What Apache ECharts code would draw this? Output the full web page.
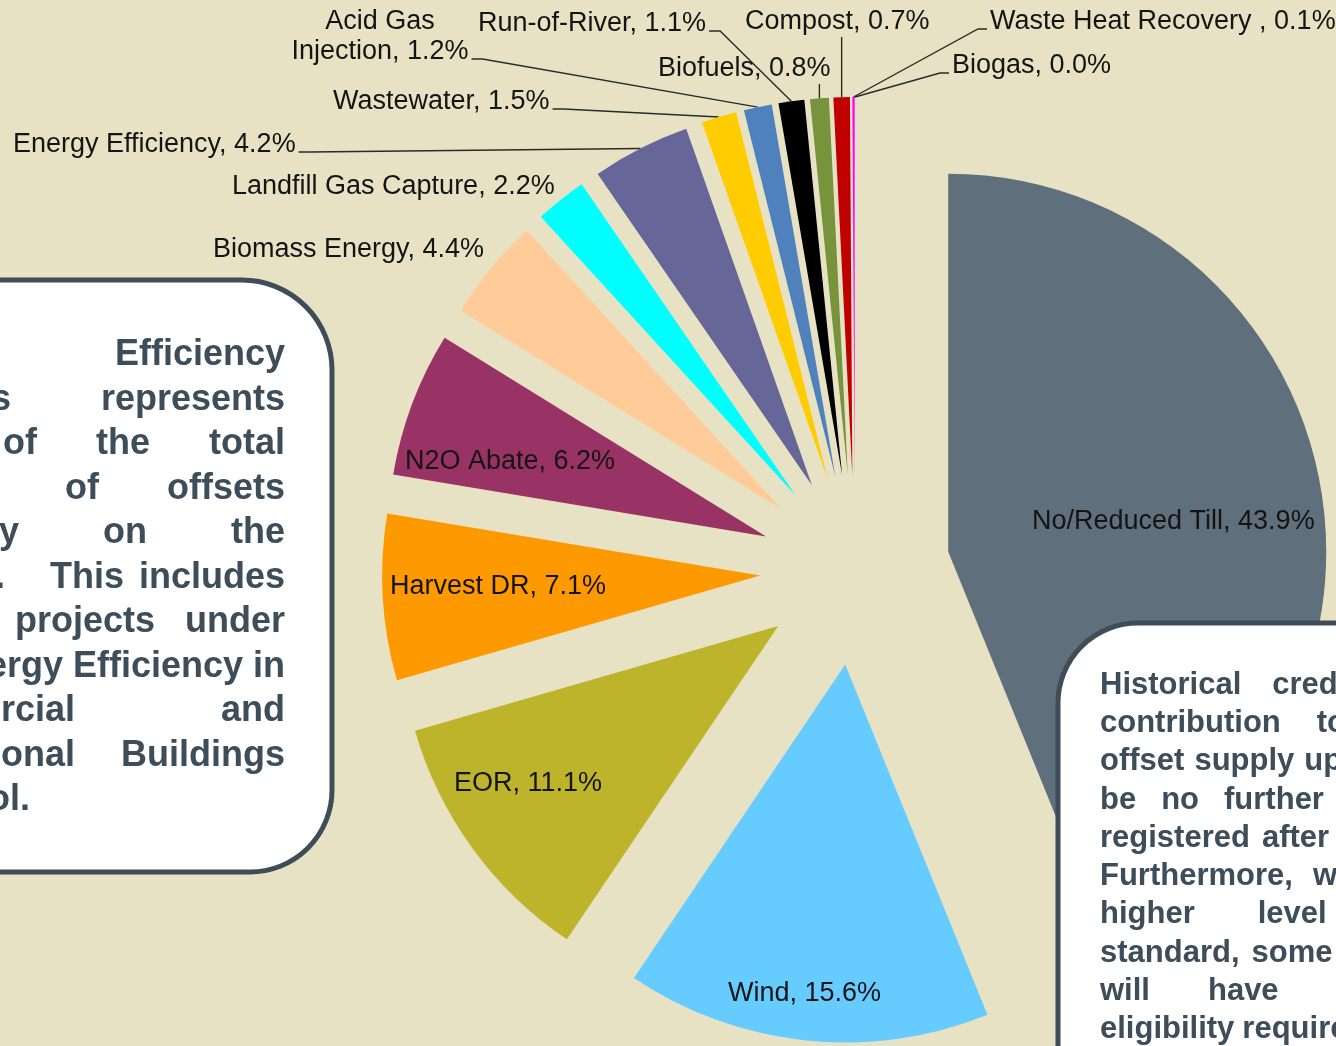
<!DOCTYPE html>
<html>
<head>
<meta charset="utf-8">
<style>
  html, body { margin: 0; padding: 0; background: #e8e2c5; }
  #chart { width: 1336px; height: 1046px; }
</style>
<script src="https://cdn.jsdelivr.net/npm/echarts@6/dist/echarts.min.js"></script>
</head>
<body>
<div id="chart"></div>
<script>
// offset types, clockwise from 12 o'clock
const categories = [
  'No/Reduced Till', 'Wind', 'EOR', 'Harvest DR', 'N2O Abate', 'Biomass Energy',
  'Landfill Gas Capture', 'Energy Efficiency', 'Wastewater', 'Acid Gas\nInjection',
  'Run-of-River', 'Biofuels', 'Compost', 'Waste Heat Recovery ', 'Biogas'
]
const shares = [43.9, 15.6, 11.1, 7.1, 6.2, 4.4, 2.2, 4.2, 1.5, 1.2, 1.1, 0.8, 0.7, 0.1, 0.0]
const sliceColors = [
  '#5f6f7c', '#66ccff', '#bdb42b', '#ff9900', '#993366', '#ffcc99',
  '#00ffff', '#666699', '#ffcc00', '#4f81bd', '#000000', '#77933c', '#c00000', '#ff00ff', '#ff66cc'
]

// label placement: [x, y, align, leader line]
const labelSpots = [
  [1032, 522, 'left', null],
  [728, 994, 'left', null],
  [454, 784, 'left', null],
  [390, 587, 'left', null],
  [405, 462, 'left', null],
  [213, 250, 'left', null],
  [232, 187, 'left', null],
  [13, 145, 'left', 'r'],
  [333, 102, 'left', 'r'],
  [380, 37, 'center', 'r'],
  [478, 24, 'left', 'r'],
  [658, 69, 'left', 'v'],
  [745, 22, 'left', 'v'],
  [990, 22, 'left', 'l'],
  [952, 66, 'left', 'l']
]

// text boxes
const noteLeft = [
  'Energy Efficiency', 'Projects represents', '4.2% of the total', 'amount of offsets',
  'supply on the', 'market.   This includes', 'the projects under', 'the Energy Efficiency in',
  'Commercial and', 'Institutional Buildings', 'protocol.'
]
const noteLeftGaps = [130, 90, 59, 68, 84, 15, 30, 10, 146, 46, -1]
const noteRight = [
  'Historical credits have a', 'contribution to the', 'offset supply up to 2020 as',
  'be no further projects', 'registered after 2012.', 'Furthermore, with a',
  'higher level of', 'standard, some projects', 'will have to meet', 'eligibility requirements.'
]
const noteRightGaps = [31, 36, 10, 25, 12, 20, 63, 12, 58, 8]

const PIE_CENTER = [855, 570]
const PIE_R = 378
const EXPLODE = 95

const BOX_FONT = 'Liberation Sans, Arial, sans-serif'
const BOX_TEXT = '#3d4d59'
const BOX_LINE = '#3e4d58'

const meas = document.createElement('canvas').getContext('2d')

// lays out one justified-looking line word by word
const lineWords = (line, gap, size, anchorX, baseY, align) => {
  const font = `bold ${size}px ${BOX_FONT}`
  meas.font = font
  const tokens = line.split(' ')
  const widths = tokens.map(t => meas.measureText(t).width)
  const total = widths.reduce((a, b) => a + b, 0) + gap * (tokens.length - 1)
  let x = align === 'right' ? anchorX - total : anchorX
  const els = []
  tokens.forEach((t, i) => {
    if (t) {
      els.push({
        type: 'text', z: 60, x: x, y: baseY - size * 0.32,
        style: {text: t, font: font, fill: BOX_TEXT, align: 'left', verticalAlign: 'middle'}
      })
    }
    x += widths[i] + gap
  })
  return els
}

const graphics = [
  {
    type: 'rect', z: 50,
    shape: {x: -200, y: 280, width: 532, height: 592, r: [0, 90, 82, 0]},
    style: {fill: '#ffffff', stroke: BOX_LINE, lineWidth: 5}
  },
  {
    type: 'rect', z: 50,
    shape: {x: 1058, y: 623, width: 520, height: 600, r: [80, 0, 0, 0]},
    style: {fill: '#ffffff', stroke: BOX_LINE, lineWidth: 5}
  }
]
noteLeft.forEach((line, i) => {
  const base = 367 + 44.5 * i
  if (noteLeftGaps[i] < 0) graphics.push(...lineWords(line, 10, 36, -124, base, 'left'))
  else graphics.push(...lineWords(line, noteLeftGaps[i], 36, 285, base, 'right'))
})
noteRight.forEach((line, i) => {
  graphics.push(...lineWords(line, noteRightGaps[i], 31, 1100, 695 + 38.3 * i, 'left'))
})

const chart = echarts.init(document.getElementById('chart'))

chart.setOption({
  backgroundColor: '#e8e2c5',
  animation: false,
  graphic: graphics,
  series: [
    {
      // exploded slices
      type: 'pie',
      center: PIE_CENTER,
      radius: PIE_R,
      startAngle: 90,
      clockwise: true,
      selectedMode: 'multiple',
      selectedOffset: EXPLODE,
      emphasis: {disabled: true},
      label: {show: false},
      labelLine: {show: false},
      data: categories.map((name, i) => ({
        name: name,
        value: shares[i],
        selected: true,
        itemStyle: {color: sliceColors[i]}
      }))
    },
    {
      // invisible ring reaching the exploded rim, carries the labels
      type: 'pie',
      silent: true,
      center: PIE_CENTER,
      radius: PIE_R + EXPLODE,
      startAngle: 90,
      clockwise: true,
      avoidLabelOverlap: false,
      minShowLabelAngle: 0,
      itemStyle: {color: 'rgba(0,0,0,0)'},
      label: {
        show: true,
        position: 'outside',
        color: '#141414',
        fontSize: 27,
        lineHeight: 30,
        fontFamily: 'Liberation Sans, Arial, sans-serif',
        formatter: p => `${p.name}, ${p.value.toFixed(1)}%`
      },
      labelLine: {show: true, lineStyle: {color: '#2a2a2a', width: 1.4}},
      labelLayout: p => {
        const s = labelSpots[p.dataIndex]
        const res = {x: s[0], y: s[1], align: s[2], verticalAlign: 'middle'}
        if (!s[3] || !p.labelLinePoints) return res
        const w = p.labelRect.width
        const h = p.labelRect.height
        const tip = p.labelLinePoints[0]
        const left = s[2] === 'left' ? s[0] : s[2] === 'center' ? s[0] - w / 2 : s[0] - w
        const base = s[1] + h / 2 - 8
        if (s[3] === 'r') res.labelLinePoints = [[left + w + 3, base], [left + w + 14, base], tip]
        else if (s[3] === 'l') res.labelLinePoints = [[left - 3, base], [left - 12, base], tip]
        else res.labelLinePoints = [[tip[0], s[1] + h / 2], [tip[0], s[1] + h / 2], tip]
        return res
      },
      data: categories.map((name, i) => ({
        name: name,
        value: shares[i],
        labelLine: {show: !!labelSpots[i][3]}
      }))
    }
  ]
})
</script>
</body>
</html>
